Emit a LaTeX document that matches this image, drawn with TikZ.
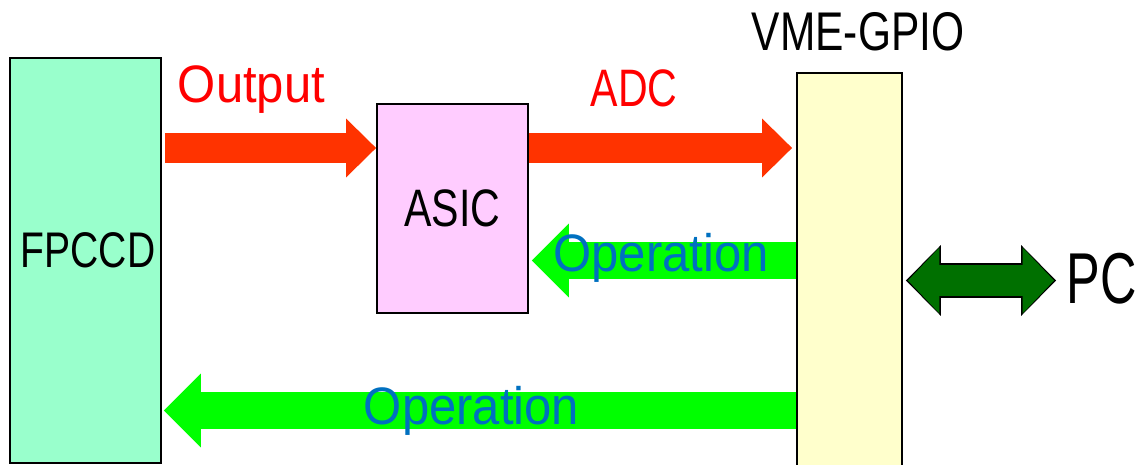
\documentclass[tikz,border=0pt]{standalone}
\usepackage{fontspec}
\setmainfont{Liberation Sans}[FakeStretch=0.78]
\newfontfamily\wordfont{Liberation Sans}[FakeStretch=0.93]
\newfontfamily\slimfont{Liberation Sans}[FakeStretch=0.7]
\usetikzlibrary{arrows.meta, positioning}
\definecolor{ccdfill}{HTML}{99FFCC}
\definecolor{asicfill}{HTML}{FFCCFF}
\definecolor{vmefill}{HTML}{FFFFCC}
\definecolor{outred}{HTML}{FF3300}
\definecolor{labred}{HTML}{FF0000}
\definecolor{opgreen}{HTML}{00FF00}
\definecolor{opblue}{HTML}{0070C0}
\definecolor{pcgreen}{HTML}{007000}

\begin{document}
\begin{tikzpicture}[
    x=0.02cm, y=-0.02cm,
    every node/.style={inner sep=0pt},
    block/.style={draw=black, line width=1.1pt},
    unit/.style={font=\fontsize{30}{36}\selectfont, text=black},
    sig/.style={font=\wordfont\fontsize{30}{36}\selectfont},
    fwd/.style={draw=outred, line width=0.6cm,
                -{Triangle[length=0.6cm, width=1.18cm, line width=0pt]}},
    back/.style={draw=opgreen, line width=0.74cm,
                 -{Triangle[length=0.74cm, width=1.48cm, line width=0pt]}},
    linkrim/.style={draw=black, line width=0.7cm,
                    {Triangle[length=0.7cm, width=1.42cm, line width=0pt]}-%
                    {Triangle[length=0.7cm, width=1.42cm, line width=0pt]}},
    linkcore/.style={draw=pcgreen, line width=0.64cm,
                     {Triangle[length=0.63cm, width=1.32cm, line width=0pt]}-%
                     {Triangle[length=0.63cm, width=1.32cm, line width=0pt]}},
]
\useasboundingbox (0,0) rectangle (1141,465);

% ---------------------------------------------------------------- the boxes
\node[block, fill=ccdfill, minimum width=3.02cm, minimum height=8.1cm]
    (fpccd) at (85.5,260.5) {};
\node[block, fill=asicfill, minimum width=3.02cm, minimum height=4.18cm,
      unit] (asic) at (452.5,208.5) {ASIC};
\node[block, fill=vmefill, minimum width=2.1cm, minimum height=8.16cm]
    (vme) at (849.5,277) {};

\node[unit, font=\fontsize{28.5}{34}\selectfont] (ccdname) at (88,250) {FPCCD};
\node[unit, font=\fontsize{31}{37}\selectfont, above=0.42cm of vme,
      xshift=0.17cm] (vmename) {VME-GPIO};
\node[unit, font=\slimfont\fontsize{41}{49}\selectfont, anchor=base west]
    (pc) at (1066,304) {PC};

% ---------------------------------------------------------------- the arrows
\draw[fwd, shorten <=0.06cm] (fpccd.east |- 0,148) -- (asic.west |- 0,148);
\draw[fwd, shorten >=0.08cm] (asic.east |- 0,148) -- (vme.west |- 0,148);
\draw[back, shorten >=0.06cm] (vme.west |- 0,260.5) -- (asic.east |- 0,260.5);
\draw[back, shorten >=0.04cm] (vme.west |- 0,410.5) -- (fpccd.east |- 0,410.5);

% to the PC, both ways
\draw[linkrim, shorten <=0.06cm, shorten >=0.2cm]
    (vme.east |- 0,280.5) -- (pc.west |- 0,280.5);
\draw[linkcore, shorten <=0.1cm, shorten >=0.24cm]
    (vme.east |- 0,280.5) -- (pc.west |- 0,280.5);

% ---------------------------------------------------------------- labels
\node[sig, text=labred, anchor=base] (outlab) at (251.5,103) {Output};
\node[unit, text=labred, anchor=base] (adclab) at (634,107) {ADC};
\node[sig, text=opblue, anchor=base] (oplab) at (661,272) {Operation};
\node[sig, text=opblue, anchor=base] (oplablow) at (471.5,424) {Operation};

\end{tikzpicture}
\end{document}
